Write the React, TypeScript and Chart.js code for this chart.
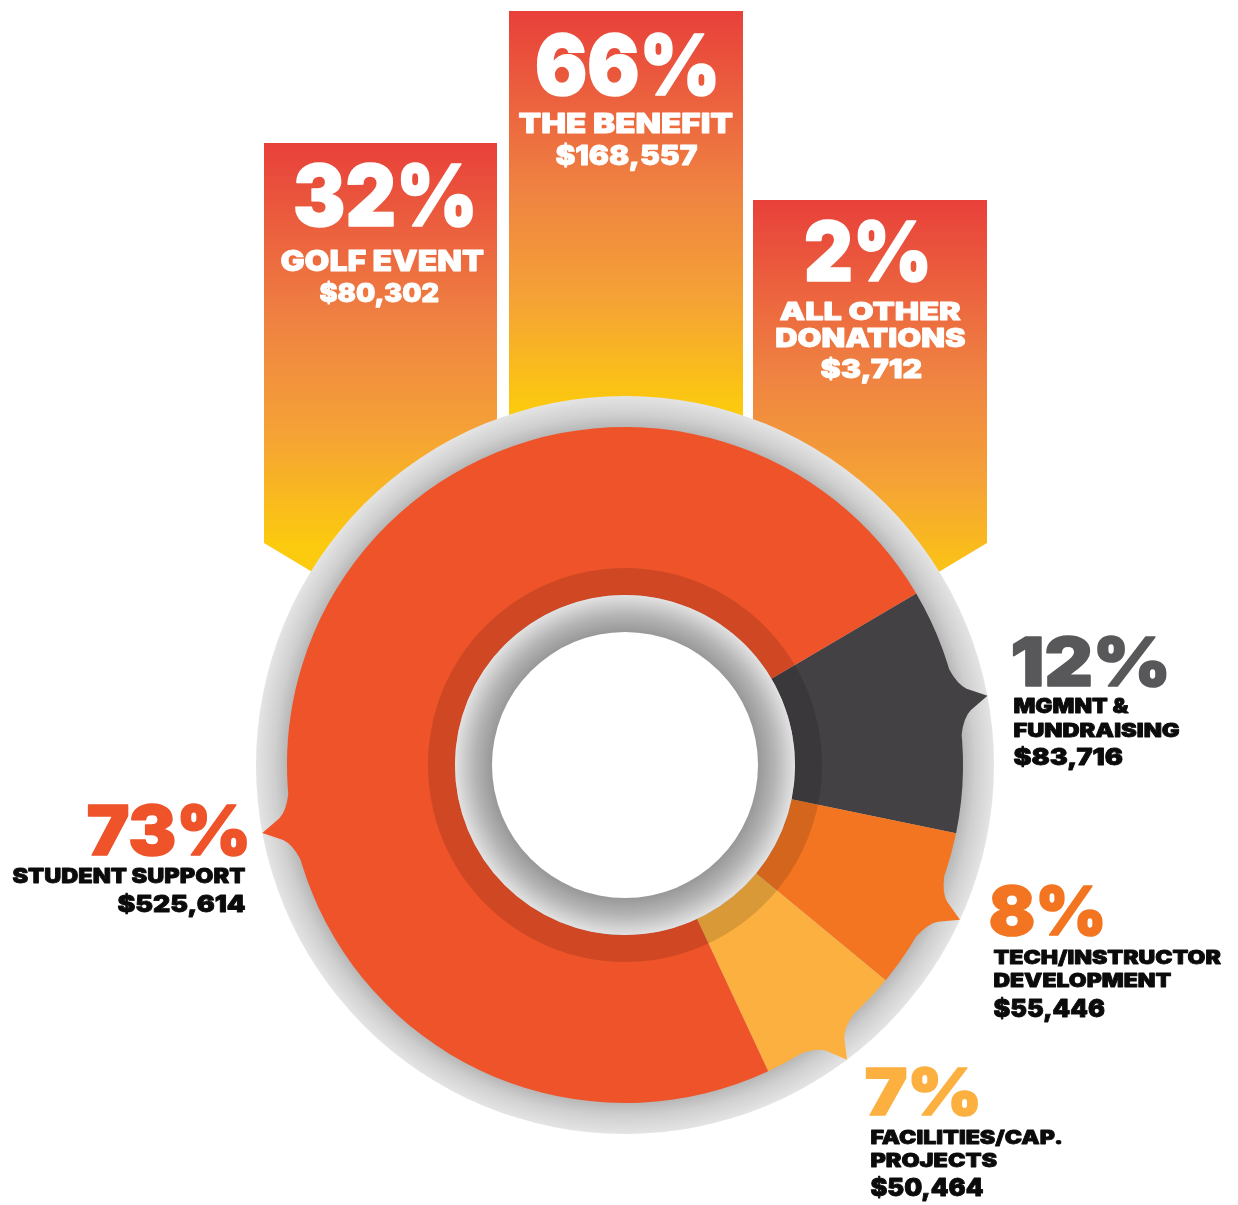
import React, { useEffect, useRef } from "react";
import { Chart, registerables } from "chart.js";

Chart.register(...registerables);

// ---------- data ----------
const incomeCategories = [["GOLF EVENT"], ["THE BENEFIT"], ["ALL OTHER", "DONATIONS"]];
const incomePercents = [32, 66, 2];
const incomeAmounts = [80302, 168557, 3712];

const expenseCategories = [
  ["MGMNT &", "FUNDRAISING"],
  ["TECH/INSTRUCTOR", "DEVELOPMENT"],
  ["FACILITIES/CAP.", "PROJECTS"],
  ["STUDENT SUPPORT"],
];
const expensePercents = [12, 8, 7, 73];
const expenseAmounts = [83716, 55446, 50464, 525614];

// ---------- styles / layout ----------
const expenseColors = ["#434143", "#F37521", "#FBB040", "#EF5329"];
const expensePctColors = ["#58585A", "#F37521", "#FBB040", "#EF5329"];
const FONT = '"Inter", "Roboto", "DejaVu Sans", sans-serif';

type Box = [number, number, number, number]; // x0, x1, capTop, baseline
const incomeBars = [
  { x0: 264, x1: 497, top: 143, bottom: 543, gradEnd: 545 },
  { x0: 509, x1: 743, top: 11, bottom: 543, gradEnd: 410 },
  { x0: 753, x1: 987, top: 200, bottom: 543, gradEnd: 590 },
];
const incomeText: { pct: Box; lines: Box[]; amt: Box }[] = [
  { pct: [295, 473, 163, 226], lines: [[280, 484, 250, 271]], amt: [319, 439, 283, 302] },
  { pct: [536, 716, 33, 95], lines: [[518, 733, 113, 133]], amt: [555, 698, 145, 165] },
  { pct: [805, 928, 220, 281], lines: [[779, 961, 302, 320], [776, 966, 328, 347]], amt: [820, 922, 359, 378] },
];
const expenseText: { pct: Box; lines: Box[]; amt: Box }[] = [
  { pct: [1012, 1167, 636, 686], lines: [[1013, 1130, 698, 713], [1013, 1180, 723, 737]], amt: [1013, 1123, 748, 765] },
  { pct: [990, 1103, 885, 935], lines: [[993, 1222, 950, 964], [993, 1172, 973, 987]], amt: [993, 1105, 999, 1017] },
  { pct: [865, 978, 1067, 1115], lines: [[870, 1062, 1130, 1144], [870, 997, 1153, 1167]], amt: [870, 984, 1178, 1196] },
  { pct: [87, 247, 804, 855], lines: [[12, 246, 868, 883]], amt: [117, 246, 895, 912] },
];
const pointerDeg = [79.2, 114.8, 143, 259.4];

const money = (n: number) => "$" + n.toLocaleString("en-US");

function fitText(ctx: CanvasRenderingContext2D, text: string, b: Box, color: string, bold: number) {
  const [x0, x1, top, base] = b;
  ctx.font = `900 100px ${FONT}`;
  const ratio = ctx.measureText("H").actualBoundingBoxAscent / 100 || 0.72;
  const size = (base - top - bold * 0.5) / ratio;
  ctx.font = `900 ${size}px ${FONT}`;
  ctx.textAlign = "left";
  ctx.textBaseline = "alphabetic";
  const m = ctx.measureText(text);
  const inkW = m.actualBoundingBoxLeft + m.actualBoundingBoxRight;
  const s = (x1 - x0 - bold) / inkW;
  ctx.save();
  ctx.translate(x0 + bold / 2, base - bold / 4);
  ctx.scale(s, 1);
  ctx.fillStyle = color;
  ctx.fillText(text, m.actualBoundingBoxLeft, 0);
  if (bold > 0) {
    ctx.strokeStyle = color;
    ctx.lineWidth = bold;
    ctx.lineJoin = "round";
    ctx.strokeText(text, m.actualBoundingBoxLeft, 0);
  }
  ctx.restore();
}

const decorPlugin = {
  id: "decor",
  beforeDatasetsDraw(chart: any) {
    const ctx: CanvasRenderingContext2D = chart.ctx;
    const arc = chart.getDatasetMeta(0).data[0];
    const cx = arc.x, cy = arc.y, R = arc.outerRadius;
    ctx.save();
    incomeBars.forEach((b) => {
      const g = ctx.createLinearGradient(0, b.top, 0, b.gradEnd);
      g.addColorStop(0, "#E8403A");
      g.addColorStop(0.45, "#EF8342");
      g.addColorStop(0.72, "#F5A236");
      g.addColorStop(1, "#FCCA0E");
      ctx.fillStyle = g;
      const mid = (b.x0 + b.x1) / 2;
      ctx.beginPath();
      ctx.moveTo(b.x0, b.top);
      ctx.lineTo(b.x1, b.top);
      ctx.lineTo(b.x1, b.bottom);
      ctx.lineTo(mid, b.bottom + ((b.x1 - b.x0) / 2) * 0.6);
      ctx.lineTo(b.x0, b.bottom);
      ctx.closePath();
      ctx.fill();
    });
    const gr = ctx.createRadialGradient(cx, cy, R, cx, cy, R + 31);
    gr.addColorStop(0, "#b8b8b8");
    gr.addColorStop(0.4, "#cfcfcf");
    gr.addColorStop(1, "#e4e4e4");
    ctx.fillStyle = gr;
    ctx.beginPath();
    ctx.arc(cx, cy, R + 31, 0, Math.PI * 2);
    ctx.fill();
    ctx.restore();
  },
  afterDatasetsDraw(chart: any) {
    const ctx: CanvasRenderingContext2D = chart.ctx;
    const arc = chart.getDatasetMeta(0).data[0];
    const cx = arc.x, cy = arc.y, R = arc.outerRadius, r = arc.innerRadius;
    const P = (rad: number, deg: number): [number, number] => {
      const a = ((deg - 90) * Math.PI) / 180;
      return [cx + rad * Math.cos(a), cy + rad * Math.sin(a)];
    };
    ctx.save();
    pointerDeg.forEach((a, i) => {
      const h = 5.6;
      ctx.fillStyle = expenseColors[i];
      ctx.beginPath();
      ctx.moveTo(...P(R - 6, a - h - 1));
      ctx.lineTo(...P(R, a - h));
      ctx.quadraticCurveTo(...P(R + 4, a - h * 0.5), ...P(R + 12, a - h * 0.32));
      ctx.lineTo(...P(R + 31, a));
      ctx.lineTo(...P(R + 12, a + h * 0.32));
      ctx.quadraticCurveTo(...P(R + 4, a + h * 0.5), ...P(R, a + h));
      ctx.lineTo(...P(R - 6, a + h + 1));
      ctx.closePath();
      ctx.fill();
    });
    ctx.fillStyle = "rgba(0,0,0,0.13)";
    ctx.beginPath();
    ctx.arc(cx, cy, r + 27, 0, Math.PI * 2);
    ctx.arc(cx, cy, r, 0, Math.PI * 2, true);
    ctx.fill();
    const gi = ctx.createRadialGradient(cx, cy, r - 37, cx, cy, r);
    gi.addColorStop(0, "#989898");
    gi.addColorStop(0.45, "#b4b4b4");
    gi.addColorStop(1, "#e2e2e2");
    ctx.fillStyle = gi;
    ctx.beginPath();
    ctx.arc(cx, cy, r, 0, Math.PI * 2);
    ctx.fill();
    ctx.fillStyle = "#ffffff";
    ctx.beginPath();
    ctx.arc(cx, cy, r - 37, 0, Math.PI * 2);
    ctx.fill();

    incomeText.forEach((t, i) => {
      fitText(ctx, incomePercents[i] + "%", t.pct, "#ffffff", 1.6);
      incomeCategories[i].forEach((ln, j) => fitText(ctx, ln, t.lines[j], "#ffffff", 0.8));
      fitText(ctx, money(incomeAmounts[i]), t.amt, "#ffffff", 0.8);
    });
    expenseText.forEach((t, i) => {
      fitText(ctx, expensePercents[i] + "%", t.pct, expensePctColors[i], 1.6);
      expenseCategories[i].forEach((ln, j) => fitText(ctx, ln, t.lines[j], "#0b0b0b", 0.8));
      fitText(ctx, money(expenseAmounts[i]), t.amt, "#0b0b0b", 0.8);
    });
    ctx.restore();
  },
};

export default function App() {
  const ref = useRef<HTMLCanvasElement | null>(null);
  useEffect(() => {
    document.body.style.margin = "0";
    const canvas = ref.current!;
    const chart = new Chart(canvas, {
      type: "doughnut",
      data: {
        labels: expenseCategories.map((l) => l.join(" ")),
        datasets: [
          {
            data: expenseAmounts,
            backgroundColor: expenseColors,
            borderWidth: 0,
            hoverOffset: 0,
          },
        ],
      },
      options: {
        responsive: false,
        animation: false,
        cutout: "50.3%",
        rotation: 59.5,
        events: [],
        layout: { padding: { left: 287, right: 275, top: 427, bottom: 102 } },
        plugins: { legend: { display: false }, tooltip: { enabled: false } },
      } as any,
      plugins: [decorPlugin as any],
    });
    return () => chart.destroy();
  }, []);
  return (
    <div style={{ width: 1238, height: 1205, background: "#fff" }}>
      <canvas ref={ref} width={1238} height={1205} style={{ display: "block" }} />
    </div>
  );
}
